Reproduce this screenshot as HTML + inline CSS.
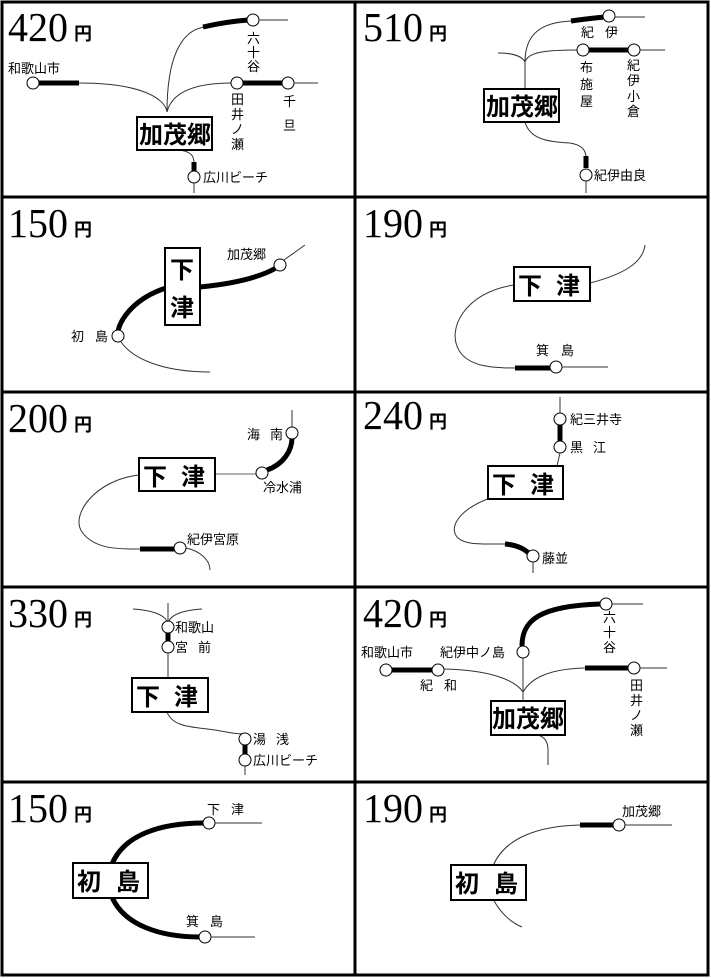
<!DOCTYPE html>
<html><head><meta charset="utf-8"><style>
html,body{margin:0;padding:0;background:#fff}
svg{display:block}
.p{font-family:"Liberation Serif",serif;font-size:41px}
.y{font-family:"Liberation Sans","Noto Sans CJK JP",sans-serif;font-size:18px;font-weight:bold}
.l{font-family:"Liberation Sans","Noto Sans CJK JP",sans-serif;font-size:13px}
.b{font-family:"Liberation Sans","Noto Sans CJK JP",sans-serif;font-size:24px;font-weight:bold}
.t{fill:none;stroke:#333;stroke-width:1}
.k{fill:none;stroke:#000;stroke-width:5}
.c{fill:#fff;stroke:#000;stroke-width:1}
.bx{fill:#fff;stroke:#000;stroke-width:2}
</style></head><body>
<svg width="711" height="978" viewBox="0 0 711 978" xmlns="http://www.w3.org/2000/svg">
<rect x="0" y="0" width="711" height="978" fill="#fff"/>
<g stroke="#000" stroke-width="3" fill="none">
<rect x="2" y="2" width="706" height="973"/>
<line x1="355" y1="2" x2="355" y2="975"/>
<line x1="2" y1="197" x2="708" y2="197"/>
<line x1="2" y1="392" x2="708" y2="392"/>
<line x1="2" y1="587" x2="708" y2="587"/>
<line x1="2" y1="782" x2="708" y2="782"/>
</g>

<!-- prices -->
<g class="p">
<text x="8" y="41" textLength="60" lengthAdjust="spacingAndGlyphs">420</text>
<text x="363" y="41" textLength="60" lengthAdjust="spacingAndGlyphs">510</text>
<text x="8" y="237" textLength="60" lengthAdjust="spacingAndGlyphs">150</text>
<text x="363" y="237" textLength="60" lengthAdjust="spacingAndGlyphs">190</text>
<text x="8" y="432" textLength="60" lengthAdjust="spacingAndGlyphs">200</text>
<text x="363" y="429" textLength="60" lengthAdjust="spacingAndGlyphs">240</text>
<text x="8" y="627" textLength="60" lengthAdjust="spacingAndGlyphs">330</text>
<text x="363" y="627" textLength="60" lengthAdjust="spacingAndGlyphs">420</text>
<text x="8" y="822" textLength="60" lengthAdjust="spacingAndGlyphs">150</text>
<text x="363" y="822" textLength="60" lengthAdjust="spacingAndGlyphs">190</text>
</g>
<g class="y">
<text x="74" y="40">円</text><text x="429" y="40">円</text>
<text x="74" y="236">円</text><text x="429" y="236">円</text>
<text x="74" y="431">円</text><text x="429" y="428">円</text>
<text x="74" y="626">円</text><text x="429" y="626">円</text>
<text x="74" y="821">円</text><text x="429" y="821">円</text>
</g>

<!-- cell 1 -->
<path class="t" d="M79,83 C140,83 165,98 167,112"/>
<path class="k" d="M39,83 L79,83"/>
<circle class="c" cx="33" cy="83" r="6"/>
<path class="t" d="M167,112 C167,60 180,30 205,27"/>
<path class="k" d="M203,27 C220,23 235,21 248,20"/>
<circle class="c" cx="253" cy="20" r="6"/>
<path class="t" d="M259,20 L288,20"/>
<path class="t" d="M167,112 C172,92 195,83 232,83"/>
<path class="k" d="M243,83 L282,83"/>
<circle class="c" cx="237" cy="83" r="6"/>
<circle class="c" cx="288" cy="83" r="6"/>
<path class="t" d="M294,83 L318,83"/>
<text class="l" x="8" y="73">和歌山市</text>
<text class="l" x="247" y="43">六</text><text class="l" x="247" y="57">十</text><text class="l" x="247" y="71">谷</text>
<text class="l" x="231" y="104">田</text><text class="l" x="231" y="119">井</text><text class="l" x="231" y="134">ノ</text><text class="l" x="231" y="149">瀬</text>
<text class="l" x="283" y="106">千</text><text class="l" x="283" y="130">旦</text>
<path class="t" d="M178,150 C190,151 194,155 194,163"/>
<path class="k" d="M194,162 L194,172"/>
<circle class="c" cx="194" cy="177" r="6"/>
<path class="t" d="M194,183 L194,193"/>
<text class="l" x="203" y="182">広川ビーチ</text>
<rect class="bx" x="137" y="117" width="75" height="33"/>
<text class="b" x="139" y="143">加茂郷</text>

<!-- cell 2 -->
<path class="t" d="M498,53 C512,53 522,56 525,62"/>
<path class="t" d="M525,88 L525,62 C525,35 540,22 572,21"/>
<path class="k" d="M571,21 C585,19 595,18 604,17"/>
<circle class="c" cx="609" cy="16" r="6"/>
<path class="t" d="M615,17 L645,17"/>
<path class="t" d="M525,62 C528,52 545,50 578,50"/>
<path class="k" d="M589,50 L629,50"/>
<circle class="c" cx="583" cy="50" r="6"/>
<circle class="c" cx="634" cy="50" r="6"/>
<path class="t" d="M640,50 L665,50"/>
<text class="l" x="581" y="37">紀</text><text class="l" x="605" y="37">伊</text>
<text class="l" x="580" y="72">布</text><text class="l" x="580" y="89">施</text><text class="l" x="580" y="106">屋</text>
<text class="l" x="627" y="70">紀</text><text class="l" x="627" y="85">伊</text><text class="l" x="627" y="101">小</text><text class="l" x="627" y="116">倉</text>
<path class="t" d="M525,122 C530,140 550,142 570,143 C582,145 586,150 586,158"/>
<path class="k" d="M586,156 L586,168"/>
<circle class="c" cx="586" cy="175" r="6"/>
<path class="t" d="M586,181 L586,193"/>
<text class="l" x="594" y="180">紀伊由良</text>
<rect class="bx" x="484" y="89" width="75" height="33"/>
<text class="b" x="486" y="115">加茂郷</text>

<!-- cell 3 -->
<path class="k" d="M200,287 C240,283 262,276 276,268"/>
<path class="k" d="M166,288 C135,298 121,318 118,331"/>
<circle class="c" cx="280" cy="265" r="6"/>
<circle class="c" cx="118" cy="336" r="6"/>
<path class="t" d="M284,260 L305,245"/>
<path class="t" d="M121,342 C135,362 170,372 210,372"/>
<text class="l" x="227" y="259">加茂郷</text>
<text class="l" x="71" y="341">初</text><text class="l" x="95" y="341">島</text>
<rect class="bx" x="165" y="248" width="35" height="77"/>
<text class="b" x="170" y="278">下</text><text class="b" x="170" y="316">津</text>

<!-- cell 4 -->
<path class="t" d="M590,283 C625,274 643,262 645,245"/>
<path class="t" d="M514,285 C465,292 445,330 460,352 C470,366 490,368 515,368"/>
<path class="k" d="M515,368 L551,368"/>
<circle class="c" cx="556" cy="367" r="6"/>
<path class="t" d="M562,367 L608,367"/>
<text class="l" x="536" y="355">箕</text><text class="l" x="561" y="355">島</text>
<rect class="bx" x="514" y="267" width="76" height="34"/>
<text class="b" x="518" y="294">下</text><text class="b" x="556" y="294">津</text>

<!-- cell 5 -->
<path class="t" d="M215,474 L256,474" style="stroke:#666"/>
<path class="k" d="M267,470 C284,464 292,450 292,438"/>
<circle class="c" cx="262" cy="473" r="6"/>
<circle class="c" cx="292" cy="433" r="6"/>
<path class="t" d="M292,427 L292,410"/>
<text class="l" x="247" y="439">海</text><text class="l" x="270" y="439">南</text>
<text class="l" x="263" y="492">冷水浦</text>
<path class="t" d="M139,475 C95,480 70,515 82,532 C95,550 120,549 140,549"/>
<path class="k" d="M140,549 L175,549"/>
<circle class="c" cx="180" cy="548" r="6"/>
<path class="t" d="M186,548 C200,551 210,560 210,570"/>
<text class="l" x="187" y="544">紀伊宮原</text>
<rect class="bx" x="139" y="458" width="76" height="33"/>
<text class="b" x="143" y="485">下</text><text class="b" x="181" y="485">津</text>

<!-- cell 6 -->
<path class="t" d="M560,397 L560,413"/>
<circle class="c" cx="560" cy="419" r="6"/>
<path class="k" d="M560,425 L560,442"/>
<circle class="c" cx="560" cy="447" r="6"/>
<path class="t" d="M560,453 L557,466"/>
<text class="l" x="570" y="424">紀三井寺</text>
<text class="l" x="570" y="452">黒</text><text class="l" x="593" y="452">江</text>
<path class="t" d="M490,498 C458,510 448,528 458,538 C466,545 480,544 505,544"/>
<path class="k" d="M505,544 C518,545 527,550 531,556"/>
<circle class="c" cx="533" cy="556" r="6"/>
<path class="t" d="M533,562 L533,573"/>
<text class="l" x="542" y="563">藤並</text>
<rect class="bx" x="488" y="466" width="75" height="33"/>
<text class="b" x="492" y="493">下</text><text class="b" x="530" y="493">津</text>

<!-- cell 7 -->
<path class="t" d="M168,603 L168,621"/>
<path class="t" d="M133,609 C150,610 163,614 167,621"/>
<path class="t" d="M202,609 C185,610 172,614 169,621"/>
<circle class="c" cx="168" cy="627" r="6"/>
<path class="k" d="M168,633 L168,642"/>
<circle class="c" cx="168" cy="647" r="6"/>
<path class="t" d="M168,653 L168,678"/>
<text class="l" x="175" y="632">和歌山</text>
<text class="l" x="175" y="652">宮</text><text class="l" x="198" y="652">前</text>
<path class="t" d="M167,712 C173,728 195,727 215,730 C232,733 242,735 245,733"/>
<circle class="c" cx="245" cy="739" r="6"/>
<path class="k" d="M245,745 L245,755"/>
<circle class="c" cx="245" cy="760" r="6"/>
<path class="t" d="M245,766 L245,775"/>
<text class="l" x="253" y="744">湯</text><text class="l" x="276" y="744">浅</text>
<text class="l" x="253" y="765">広川ビーチ</text>
<rect class="bx" x="132" y="678" width="76" height="34"/>
<text class="b" x="136" y="705">下</text><text class="b" x="174" y="705">津</text>

<!-- cell 8 -->
<path class="k" d="M392,670 L433,670"/>
<circle class="c" cx="386" cy="670" r="6"/>
<circle class="c" cx="438" cy="670" r="6"/>
<path class="t" d="M444,669 C490,670 515,680 523,692"/>
<path class="t" d="M523,700 L523,658"/>
<circle class="c" cx="523" cy="652" r="6"/>
<path class="k" d="M522,646 C522,620 540,606 600,604"/>
<circle class="c" cx="606" cy="604" r="6"/>
<path class="t" d="M612,604 L643,604"/>
<path class="t" d="M523,692 C530,680 545,669 585,668"/>
<path class="k" d="M585,668 L628,668"/>
<circle class="c" cx="634" cy="668" r="6"/>
<path class="t" d="M640,668 L667,668"/>
<text class="l" x="361" y="657">和歌山市</text>
<text class="l" x="440" y="657">紀伊中ノ島</text>
<text class="l" x="420" y="690">紀</text><text class="l" x="444" y="690">和</text>
<text class="l" x="603" y="622">六</text><text class="l" x="603" y="637">十</text><text class="l" x="603" y="652">谷</text>
<text class="l" x="630" y="690">田</text><text class="l" x="630" y="705">井</text><text class="l" x="630" y="720">ノ</text><text class="l" x="630" y="735">瀬</text>
<path class="t" d="M538,735 C545,737 548,742 548,750 L548,765"/>
<rect class="bx" x="491" y="701" width="74" height="34"/>
<text class="b" x="492" y="727">加茂郷</text>

<!-- cell 9 -->
<path class="k" d="M112,864 C124,835 160,823 204,823"/>
<circle class="c" cx="209" cy="823" r="6"/>
<path class="t" d="M215,823 L262,823"/>
<path class="k" d="M112,897 C124,925 160,937 200,937"/>
<circle class="c" cx="205" cy="937" r="6"/>
<path class="t" d="M211,937 L255,937"/>
<text class="l" x="207" y="814">下</text><text class="l" x="231" y="814">津</text>
<text class="l" x="186" y="926">箕</text><text class="l" x="210" y="926">島</text>
<rect class="bx" x="73" y="863" width="75" height="35"/>
<text class="b" x="77" y="890">初</text><text class="b" x="116" y="890">島</text>

<!-- cell 10 -->
<path class="t" d="M493,866 C505,837 540,826 580,825"/>
<path class="k" d="M580,825 L614,825"/>
<circle class="c" cx="619" cy="825" r="6"/>
<path class="t" d="M625,825 L672,825"/>
<text class="l" x="622" y="816">加茂郷</text>
<path class="t" d="M493,899 C500,912 510,922 522,927"/>
<rect class="bx" x="451" y="865" width="75" height="35"/>
<text class="b" x="455" y="892">初</text><text class="b" x="494" y="892">島</text>
</svg>
</body></html>
